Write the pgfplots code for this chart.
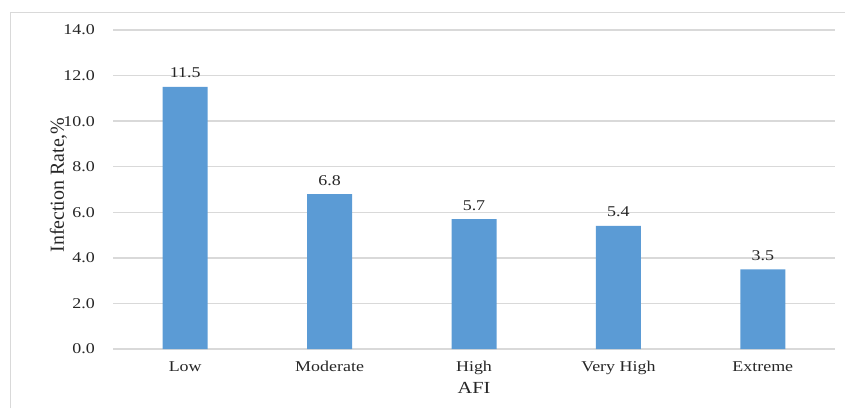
\documentclass[border=0pt]{standalone}
\usepackage{pgfplots}
\pgfplotsset{compat=1.18}
\usepackage{fontspec}
\setmainfont[FakeStretch=1.2]{Liberation Serif}
\newfontfamily\plainserif{Liberation Serif}
\definecolor{barblue}{HTML}{5B9BD5}
\definecolor{gridgray}{HTML}{D9D9D9}
\definecolor{framegray}{HTML}{D9D9D9}
\definecolor{txt}{HTML}{262626}

\begin{document}
\begin{tikzpicture}[x=1bp,y=1bp]
\path[use as bounding box] (0,0) rectangle (845,408);
\draw[framegray, line width=1.2bp] (10.5,0) -- (10.5,395.5) -- (845,395.5);
\begin{axis}[
  at={(113bp,59bp)}, anchor=south west,
  scale only axis,
  width=722bp, height=319bp,
  xmin=-0.5, xmax=4.5,
  ymin=0, ymax=14,
  ytick={0,2,...,14},
  xtick=data,
  xticklabels={Low,Moderate,High,Very High,Extreme},
  axis line style={draw=none},
  tick style={draw=none},
  ymajorgrids=true,
  grid style={gridgray, line width=1.3bp},
  /pgf/number format/assume math mode=true,
  yticklabel style={/pgf/number format/fixed, /pgf/number format/fixed zerofill, /pgf/number format/precision=1},
  yticklabel style={font=\fontsize{15}{15}\selectfont, anchor=east, inner sep=0pt, xshift=-18bp, text=txt},
  xticklabel style={font=\fontsize{15}{15}\selectfont, anchor=base, inner sep=0pt, yshift=-22bp, text=txt},
  xlabel={AFI},
  xlabel style={font=\fontsize{17}{17}\selectfont, at={(axis description cs:0.5,0)}, anchor=base, inner sep=0pt, yshift=-44bp, text=txt},
  ylabel={Infection Rate,\%},
  ylabel style={font=\plainserif\fontsize{20}{20}\selectfont, at={(axis description cs:-0.0679,0.514)}, rotate=0, anchor=base, inner sep=0pt, text=txt},
  clip=false,
  nodes near coords,
  nodes near coords style={font=\fontsize{15}{15}\selectfont, text=txt, anchor=base, inner sep=0pt, yshift=9bp, /pgf/number format/fixed, /pgf/number format/fixed zerofill, /pgf/number format/precision=1},
]
\addplot[ybar, bar width=45bp, fill=barblue, draw=none] coordinates {
  (0,11.5) (1,6.8) (2,5.7) (3,5.4) (4,3.5)
};
\end{axis}
\end{tikzpicture}
\end{document}
